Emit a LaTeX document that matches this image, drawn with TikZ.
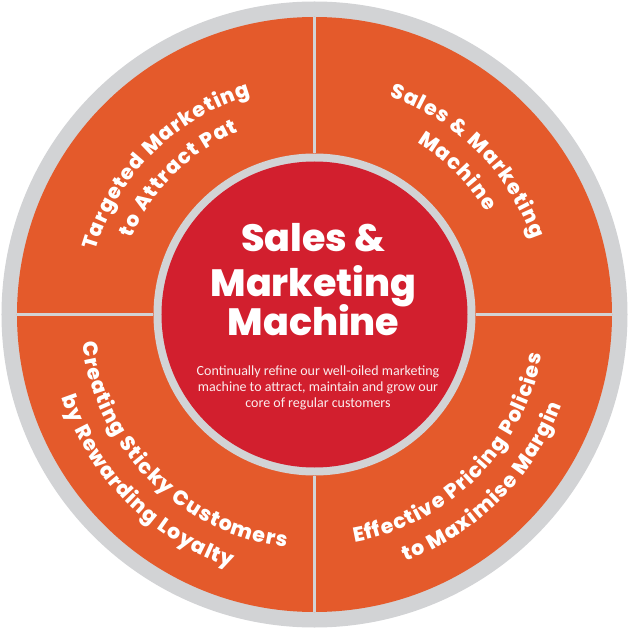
\documentclass[tikz,border=0pt]{standalone}
\usepackage{fontspec}
\usetikzlibrary{decorations.text}
\newfontfamily\heavyfont{Poppins}[BoldFont={Poppins ExtraBold}]
\newfontfamily\bodyfont{Carlito}
\definecolor{ringgrey}{HTML}{D2D3D5}
\definecolor{wheelorange}{HTML}{E45A2B}
\definecolor{hubred}{HTML}{D21F2E}
\newcommand\quadfont{\heavyfont\bfseries\fontsize{20.5}{20.5}\selectfont}

\tikzset{
  arctext/.style={decorate, decoration={text effects along path, text={#1},
      text align=center, text effects/.cd, text along path,
      character widths={font=\quadfont, inner xsep=0.5pt},
      characters={text=white, font=\quadfont}}},
  title/.style={font=\heavyfont\bfseries\fontsize{38}{38}\selectfont,
      text=white, anchor=base, inner sep=0pt},
  blurb/.style={font=\bodyfont\fontsize{14}{16}\selectfont,
      text=white!92!hubred, anchor=base, inner sep=0pt},
  divider/.style={ringgrey, line width=3pt}
}

\begin{document}
\begin{tikzpicture}[x=1pt,y=1pt]
	\useasboundingbox (-314.5,-314.5) rectangle (314.5,314.5);
	% wheel and hub
	\fill[ringgrey] (0,0) circle (313pt);
	\fill[wheelorange] (0,0) circle (297.5pt);
	\fill[ringgrey] (0,0) circle (161pt);
	\fill[hubred] (0,0) circle (153pt);
	\foreach \a in {0,90,180,270}
		\draw[divider] (\a:161pt) -- (\a:297.5pt);
	% quadrant labels
	\path[arctext={Targeted Marketing}] (180:228pt) arc[start angle=180, end angle=90, radius=228pt];
	\path[arctext={to Attract Pat}] (180:198pt) arc[start angle=180, end angle=90, radius=198pt];
	\path[arctext={Sales {\&} Marketing}] (90:230pt) arc[start angle=90, end angle=0, radius=230pt];
	\path[arctext={Machine}] (90:200pt) arc[start angle=90, end angle=0, radius=200pt];
	\path[arctext={Creating Sticky Customers}] (180:234pt) arc[start angle=180, end angle=270, radius=234pt];
	\path[arctext={by Rewarding Loyalty}] (180:266pt) arc[start angle=180, end angle=270, radius=266pt];
	\path[arctext={Effective Pricing Policies}] (270:231pt) arc[start angle=270, end angle=360, radius=231pt];
	\path[arctext={to Maximise Margin}] (270:263pt) arc[start angle=270, end angle=360, radius=263pt];
	% hub text
	\node[title] (t1) at (-1,62.5) {Sales \&};
	\node[title] (t2) at (-1,17.5) {Marketing};
	\node[title] (t3) at (-1,-20.5) {Machine};
	\node[blurb] (b1) at (3.5,-60.5) {Continually refine our well-oiled marketing};
	\node[blurb] (b2) at (3.5,-76.5) {machine to attract, maintain and grow our};
	\node[blurb] (b3) at (3.5,-92.5) {core of regular customers};
\end{tikzpicture}
\end{document}
